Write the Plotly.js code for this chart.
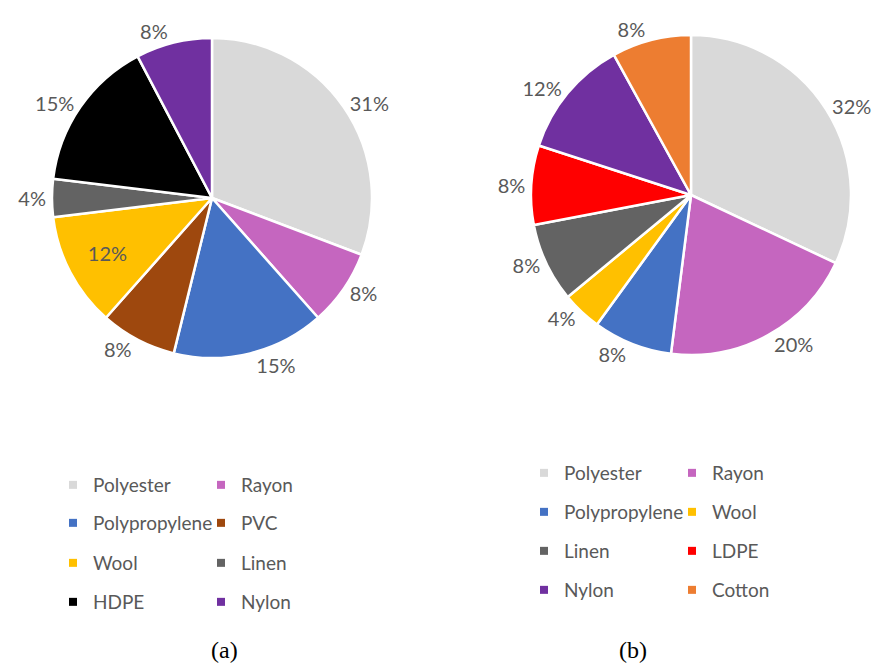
<!DOCTYPE html>
<html><head><meta charset="utf-8">
<script src="https://cdn.plot.ly/plotly-3.0.1.min.js"></script>
<style>html,body{margin:0;padding:0;background:#fff}#chart{width:872px;height:665px}</style>
</head><body><div id="chart"></div>
<script>
// ---- data ----
const labelsA = ['Polyester','Rayon','Polypropylene','PVC','Wool','Linen','HDPE','Nylon'];
const countsA = [8, 2, 4, 2, 3, 1, 4, 2];
const colorsA = ['#d9d9d9','#c566bf','#4472c4','#9e480e','#ffc000','#636363','#000000','#7030a0'];
const labelsB = ['Polyester','Rayon','Polypropylene','Wool','Linen','LDPE','Nylon','Cotton'];
const countsB = [8, 5, 2, 1, 2, 2, 3, 2];
const colorsB = ['#d9d9d9','#c566bf','#4472c4','#ffc000','#636363','#ff0000','#7030a0','#ed7d31'];
const insideA = ['Wool'];
const captions = ['(a)', '(b)'];

// ---- layout helpers ----
const W = 872, H = 665;
const FONT = 'Lato, "Liberation Sans", sans-serif';
const GREY = '#595959';
const px = v => v / W, py = v => 1 - v / H;

function pieTrace(labels, values, colors, box, inside) {
  return {
    type: 'pie', labels: labels, values: values, sort: false, direction: 'clockwise', rotation: 0,
    marker: {colors: colors, line: {color: '#ffffff', width: 2.5}},
    texttemplate: '%{percent:.0%}',
    textposition: labels.map(l => inside.indexOf(l) >= 0 ? 'inside' : 'outside'),
    textfont: {family: FONT, size: 20, color: GREY},
    insidetextfont: {family: FONT, size: 20, color: GREY},
    outsidetextfont: {family: FONT, size: 20, color: GREY},
    insidetextorientation: 'horizontal',
    showlegend: false, hoverinfo: 'label+percent',
    domain: {x: [px(box[0]), px(box[2])], y: [py(box[3]), py(box[1])]}
  };
}

const traces = [
  pieTrace(labelsA, countsA, colorsA, [52, 38, 372, 358], insideA),
  pieTrace(labelsB, countsB, colorsB, [531, 35, 851, 355], [])
];

const layout = {
  width: W, height: H, margin: {l: 0, r: 0, t: 0, b: 0},
  paper_bgcolor: '#ffffff', plot_bgcolor: 'rgba(0,0,0,0)',
  xaxis: {visible: false, range: [0, 1]}, yaxis: {visible: false, range: [0, 1]},
  font: {family: FONT, color: GREY},
  annotations: []
};

// legends: one horizontal legend per row, two entries each
const legendSpecs = [
  {labels: labelsA, colors: colorsA, rows: [485, 523, 563, 602], x: 93},
  {labels: labelsB, colors: colorsB, rows: [473, 512, 551, 590], x: 564}
];
let li = 0;
legendSpecs.forEach(spec => {
  spec.rows.forEach((rowY, r) => {
    li += 1;
    const lname = li === 1 ? 'legend' : 'legend' + li;
    layout[lname] = {
      orientation: 'h', x: px(spec.x - 40), xanchor: 'left', y: py(rowY), yanchor: 'middle',
      entrywidth: 103, entrywidthmode: 'pixels', bgcolor: 'rgba(0,0,0,0)', borderwidth: 0,
      font: {family: FONT, size: 19, color: GREY}, traceorder: 'normal'
    };
    for (let c = 0; c < 2; c++) {
      const k = r * 2 + c;
      traces.push({
        type: 'scatter', mode: 'markers', x: [null], y: [null], name: spec.labels[k],
        marker: {symbol: 'square', size: 8, color: spec.colors[k]},
        legend: lname, showlegend: true, hoverinfo: 'skip'
      });
    }
  });
});

// captions
[[224.5, 650], [632.5, 650]].forEach((p, i) => {
  layout.annotations.push({
    text: captions[i], xref: 'paper', yref: 'paper', x: px(p[0]), y: py(p[1]),
    xanchor: 'center', yanchor: 'middle', showarrow: false, borderpad: 0,
    font: {family: '"Liberation Serif", "Times New Roman", serif', size: 24, color: '#000000'}
  });
});

Plotly.newPlot('chart', traces, layout, {displayModeBar: false, staticPlot: true});
</script></body></html>
